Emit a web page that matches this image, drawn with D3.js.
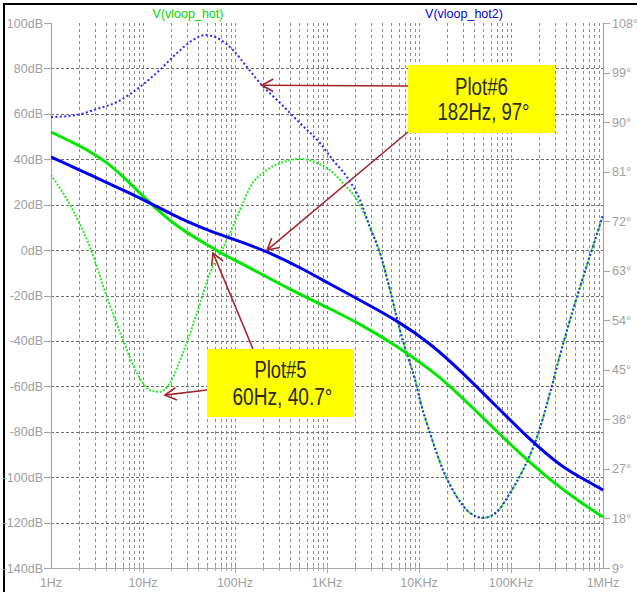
<!DOCTYPE html>
<html><head><meta charset="utf-8">
<script src="https://cdn.jsdelivr.net/npm/d3@7"></script>
<style>
html,body{margin:0;padding:0;background:#fff;}
svg{display:block;font-family:"Liberation Sans",Arial,sans-serif;}
</style></head>
<body><svg id="c" width="637" height="592"></svg>
<script>
// ---------- data ----------
const dbTicks = [100,80,60,40,20,0,-20,-40,-60,-80,-100,-120,-140];
const degTicks = [108,99,90,81,72,63,54,45,36,27,18,9];
const freqTicks = [1,10,100,1e3,1e4,1e5,1e6];
const freqTickLabels = ["1Hz","10Hz","100Hz","1KHz","10KHz","100KHz","1MHz"];

// V(vloop_hot) magnitude (dB)
const hotMagFreq = [1,1.73,2.65,4.06,6.07,9.27,14.2,21.2,32.4,49.7,74.1,113,157,396,1079,2460,5768,13183,20137,38637,75858,149279,286418,562341,1e6];
const hotMagDb   = [52.0,47.4,43.5,38.6,32.4,25.1,17.8,11.9,6.8,2.4,-1.9,-5.5,-8.6,-17.3,-25.8,-33.2,-42.3,-52.6,-58.6,-69.5,-81.2,-92.4,-102.3,-110.9,-117.5];
// V(vloop_hot2) magnitude (dB)
const hot2MagFreq = [1,1.73,2.65,4.06,6.07,9.27,14.2,21.2,32.4,49.7,74.1,113,223,509,1079,2460,5768,13183,30061,70469,161065,367282,669884,1e6];
const hot2MagDb   = [41.0,36.6,33.2,29.7,26.4,22.9,19.1,15.5,12.0,8.9,6.4,3.8,-0.6,-7.6,-15.0,-22.8,-31.0,-40.9,-54.1,-69.1,-83.6,-96.0,-101.6,-105.7];
// V(vloop_hot) phase (deg)
const hotPhFreq = [1,1.73,2.65,4.06,6.07,8.61,11.9,15.3,19.6,27.2,38.6,53.5,81.8,113,146,223,333,509,778,1161,1493,2118,2931,3767,4842,6209,7586,9057,10257,13183,18239,25882,35810,49659,70469,97499,134896,191867,265461,341193,472063,687068,1e6];
const hotPhDeg  = [80.4,74.0,67.3,58.2,50.4,44.4,41.3,41.0,42.6,48.1,55.3,62.6,68.6,74.0,78.2,81.3,82.75,83.3,82.6,80.8,78.9,75.85,70.9,66.2,59.5,52.2,47.3,43.2,39.5,33.5,26.8,21.9,19.0,18.1,19.2,22.6,26.8,32.8,40.8,47.7,55.9,64.6,73.1];
// V(vloop_hot2) phase (deg)
const hot2PhFreq = [1,1.92,3.16,5.21,9.27,15.3,23.4,34.9,47.2,63.7,95.1,135,196,308,509,839,1161,1648,2286,2931,3767,4842,6209,7586,9057,10257,13183,18239,25882,35810,49659,70469,97499,134896,191867,265461,341193,472063,687068,1e6];
const hot2PhDeg  = [90.9,91.3,92.4,93.65,96.4,99.5,102.55,104.9,105.8,105.3,103.1,100.0,96.7,93.5,89.8,86.2,83.1,80.0,75.85,70.9,66.2,59.5,52.2,47.3,43.2,39.5,33.5,26.8,21.9,19.0,18.1,19.2,22.6,26.8,32.8,40.8,47.7,55.9,64.6,73.1];

const traceNames = ["V(vloop_hot)","V(vloop_hot2)"];
const noteLines6 = ["Plot#6","182Hz, 97°"];
const noteLines5 = ["Plot#5","60Hz, 40.7°"];

// ---------- layout ----------
const L=51, R=603, T=23, B=568;
const svg = d3.select("#c");
const x = d3.scaleLog().domain([1,1e6]).range([L,R]);
const yL = d3.scaleLinear().domain([-140,100]).range([B,T]);
const yR = d3.scaleLinear().domain([9,108]).range([B,T]);
const axisCol="#a8a8a8", labCol="#a0a0a0";

svg.append("rect").attr("width",637).attr("height",592).attr("fill","#fff");
// outer frame (top & left)
svg.append("path").attr("d","M4,592V4H637").attr("fill","none").attr("stroke","#000").attr("stroke-width",2);

// vertical grid
const minor=[];
for(let k=0;k<6;k++) for(let d=1;d<=9;d++){const f=d*Math.pow(10,k); if(f>1) minor.push(f);}
svg.append("g").selectAll("line").data(minor).join("line")
  .attr("x1",d=>Math.round(x(d))+0.5).attr("x2",d=>Math.round(x(d))+0.5)
  .attr("y1",T).attr("y2",B)
  .attr("stroke","#8c8c8c").attr("stroke-width",1).attr("stroke-dasharray","3,3");
// horizontal grid
svg.append("g").selectAll("line").data(dbTicks.filter(v=>v<100&&v>-140)).join("line")
  .attr("x1",L).attr("x2",R)
  .attr("y1",d=>Math.round(yL(d))+0.5).attr("y2",d=>Math.round(yL(d))+0.5)
  .attr("stroke","#6e6e6e").attr("stroke-width",1).attr("stroke-dasharray","3,2");

// axes lines
const ax = svg.append("g").attr("stroke",axisCol).attr("stroke-width",1.2);
ax.append("line").attr("x1",L+0.5).attr("x2",L+0.5).attr("y1",T).attr("y2",B);
ax.append("line").attr("x1",R+0.5).attr("x2",R+0.5).attr("y1",T).attr("y2",B);
ax.append("line").attr("x1",L).attr("x2",R).attr("y1",B+0.5).attr("y2",B+0.5);

// left axis ticks + labels
const gl = svg.append("g");
gl.selectAll("line").data(dbTicks).join("line")
  .attr("x1",L-7).attr("x2",L).attr("y1",d=>Math.round(yL(d))+0.5).attr("y2",d=>Math.round(yL(d))+0.5)
  .attr("stroke",axisCol).attr("stroke-width",1.2);
gl.selectAll("text").data(dbTicks).join("text")
  .attr("x",L-8).attr("y",d=>yL(d)+4.5).attr("text-anchor","end")
  .attr("font-size",12.5).attr("fill",labCol).text(d=>d+"dB");
// right axis
const gr = svg.append("g");
gr.selectAll("line").data(degTicks).join("line")
  .attr("x1",R).attr("x2",R+7).attr("y1",d=>Math.round(yR(d))+0.5).attr("y2",d=>Math.round(yR(d))+0.5)
  .attr("stroke",axisCol).attr("stroke-width",1.2);
gr.selectAll("text").data(degTicks).join("text")
  .attr("x",R+9).attr("y",d=>yR(d)+4.5).attr("text-anchor","start")
  .attr("font-size",12.5).attr("fill",labCol).text(d=>d+"°");
// bottom axis ticks + labels
const gb = svg.append("g");
gb.selectAll("line.mi").data(minor).join("line")
  .attr("x1",d=>Math.round(x(d))+0.5).attr("x2",d=>Math.round(x(d))+0.5)
  .attr("y1",B-3).attr("y2",d=>freqTicks.includes(d)?B+5:B+3)
  .attr("stroke",axisCol).attr("stroke-width",1);
gb.selectAll("text").data(freqTicks).join("text")
  .attr("x",d=>x(d)).attr("y",587).attr("text-anchor","middle")
  .attr("font-size",12.5).attr("fill",labCol).text((d,i)=>freqTickLabels[i]);

// titles
svg.append("text").attr("x",188).attr("y",18).attr("text-anchor","middle").attr("font-size",12.5)
  .attr("fill","#00d800").text(traceNames[0]);
svg.append("text").attr("x",464).attr("y",18).attr("text-anchor","middle").attr("font-size",12.5)
  .attr("fill","#0000e6").text(traceNames[1]);

// curves
svg.append("clipPath").attr("id","pc").append("rect").attr("x",L).attr("y",T-2).attr("width",R-L+2).attr("height",B-T+2);
const plot = svg.append("g").attr("clip-path","url(#pc)");
function mk(fr,vals,ys,cv){ return d3.line().curve(cv).x((d,i)=>x(fr[i])).y((d,i)=>ys(vals[i]))(vals); }
plot.append("path").attr("d",mk(hotPhFreq,hotPhDeg,yR,d3.curveMonotoneX)).attr("fill","none").attr("stroke","#22ee22").attr("stroke-width",2).attr("stroke-dasharray","2,1.6");
plot.append("path").attr("d",mk(hot2PhFreq,hot2PhDeg,yR,d3.curveMonotoneX)).attr("fill","none").attr("stroke","#2a2aff").attr("stroke-width",2).attr("stroke-dasharray","2,2.4");
plot.append("path").attr("d",mk(hotMagFreq,hotMagDb,yL,d3.curveBasis)).attr("fill","none").attr("stroke","#00e600").attr("stroke-width",3);
plot.append("path").attr("d",mk(hot2MagFreq,hot2MagDb,yL,d3.curveBasis)).attr("fill","none").attr("stroke","#0000f0").attr("stroke-width",3);

// annotations
const arrowCol="#a3262c";
function arrow(x0,y0,x1,y1){
  const g=svg.append("g").attr("stroke",arrowCol).attr("stroke-width",1.6).attr("fill","none");
  g.append("line").attr("x1",x0).attr("y1",y0).attr("x2",x1).attr("y2",y1);
  const a=Math.atan2(y0-y1,x0-x1), len=13, sp=0.5;
  g.append("path").attr("d",`M${x1+len*Math.cos(a+sp)},${y1+len*Math.sin(a+sp)}L${x1},${y1}L${x1+len*Math.cos(a-sp)},${y1+len*Math.sin(a-sp)}`);
}
function box(x0,y0,w,h,lines,b1,b2,w1,w2){
  svg.append("rect").attr("x",x0).attr("y",y0).attr("width",w).attr("height",h).attr("fill","#ffff00");
  const cx=x0+w/2;
  svg.append("text").attr("x",cx).attr("y",b1).attr("text-anchor","middle").attr("font-size",23.5).attr("fill","#2a2a2a")
    .attr("textLength",w1).attr("lengthAdjust","spacingAndGlyphs").text(lines[0]);
  svg.append("text").attr("x",cx+2).attr("y",b2).attr("text-anchor","middle").attr("font-size",23.5).attr("fill","#2a2a2a")
    .attr("textLength",w2).attr("lengthAdjust","spacingAndGlyphs").text(lines[1]);
}
// Plot#6
box(408,65,147,68,noteLines6,95,120,53,92);
arrow(408,86,x(196),yR(96.7));
arrow(408,132,x(223),yL(0));
// Plot#5
box(207,349,147,68,noteLines5,378,405,52,100);
arrow(253,349,x(57.7),yL(-1.3));
arrow(207,390,x(17.3),yR(40.4));
</script></body></html>
